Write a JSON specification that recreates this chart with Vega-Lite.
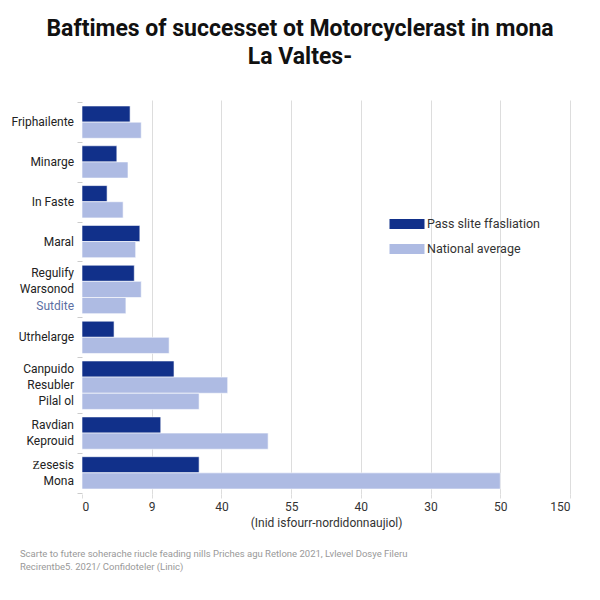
{
  "$schema": "https://vega.github.io/schema/vega-lite/v6.json",
  "autosize": {"type": "none"},
  "width": 488,
  "height": 394,
  "padding": {"left": 82, "top": 100, "right": 30, "bottom": 106},
  "background": "white",
  "title": {
    "text": ["Baftimes of successet ot Motorcyclerast in mona", "La Valtes-"],
    "font": "Roboto",
    "fontSize": 23,
    "fontWeight": "bold",
    "color": "#111111",
    "anchor": "middle",
    "frame": "group",
    "dx": -26,
    "offset": 31,
    "lineHeight": 28
  },
  "config": {"view": {"stroke": null}, "font": "Roboto"},
  "datasets": {
    "bars": [
      {"order": 0, "group": 0, "series": "Pass slite ffasliation", "value": 6.9},
      {"order": 1, "group": 0, "series": "National average", "value": 8.5},
      {"order": 2, "group": 1, "series": "Pass slite ffasliation", "value": 5.0},
      {"order": 3, "group": 1, "series": "National average", "value": 6.6},
      {"order": 4, "group": 2, "series": "Pass slite ffasliation", "value": 3.6},
      {"order": 5, "group": 2, "series": "National average", "value": 5.9},
      {"order": 6, "group": 3, "series": "Pass slite ffasliation", "value": 8.3},
      {"order": 7, "group": 3, "series": "National average", "value": 7.7},
      {"order": 8, "group": 4, "series": "Pass slite ffasliation", "value": 7.5},
      {"order": 9, "group": 4, "series": "National average", "value": 8.5},
      {"order": 10, "group": 4, "series": "National average", "value": 6.3},
      {"order": 11, "group": 5, "series": "Pass slite ffasliation", "value": 4.6},
      {"order": 12, "group": 5, "series": "National average", "value": 12.5},
      {"order": 13, "group": 6, "series": "Pass slite ffasliation", "value": 13.2},
      {"order": 14, "group": 6, "series": "National average", "value": 20.9},
      {"order": 15, "group": 6, "series": "National average", "value": 16.8},
      {"order": 16, "group": 7, "series": "Pass slite ffasliation", "value": 11.3},
      {"order": 17, "group": 7, "series": "National average", "value": 26.7},
      {"order": 18, "group": 8, "series": "Pass slite ffasliation", "value": 16.8},
      {"order": 19, "group": 8, "series": "National average", "value": 60.0}
    ],
    "labels": [
      {"label": "Friphailente", "order": 0.5, "group": 0},
      {"label": "Minarge", "order": 2.5, "group": 1},
      {"label": "In Faste", "order": 4.5, "group": 2},
      {"label": "Maral", "order": 6.5, "group": 3},
      {"label": "Regulify", "order": 8, "group": 4},
      {"label": "Warsonod", "order": 9, "group": 4},
      {"label": "Sutdite", "order": 10, "group": 4},
      {"label": "Utrhelarge", "order": 11.5, "group": 5},
      {"label": "Canpuido", "order": 13, "group": 6},
      {"label": "Resubler", "order": 14, "group": 6},
      {"label": "Pilal ol", "order": 15, "group": 6},
      {"label": "Ravdian", "order": 16, "group": 7},
      {"label": "Keprouid", "order": 17, "group": 7},
      {"label": "Ƶesesis", "order": 18, "group": 8},
      {"label": "Mona", "order": 19, "group": 8}
    ]
  },
  "layer": [
    {
      "data": {"name": "bars"},
      "transform": [
        {"calculate": "datum.order + datum.group * 0.464", "as": "pos"},
        {"calculate": "datum.pos - 0.5", "as": "y0"},
        {"calculate": "datum.pos + 0.5", "as": "y1"}
      ],
      "mark": {"type": "rect", "stroke": "white", "strokeWidth": 0.6},
      "encoding": {
        "x": {
          "field": "value",
          "type": "quantitative",
          "title": "(Inid isfourr-nordidonnaujiol)",
          "scale": {"domain": [0, 70], "nice": false, "zero": true},
          "axis": {
            "values": [0, 10, 20, 30, 40, 50, 60, 70],
            "labelExpr": "['0','9','40','55','40','30','50','150'][round(datum.value/10)]",
            "grid": true,
            "gridColor": "#dddddd",
            "gridOpacity": {"condition": {"test": "datum.value === 0", "value": 0}, "value": 1},
            "domain": false,
            "tickColor": "#dddddd",
            "tickSize": 4,
            "labelFontSize": 12,
            "labelColor": "#333333",
            "labelPadding": 3,
            "titleFontSize": 12,
            "titleFontWeight": "normal",
            "titleColor": "#333333",
            "titlePadding": 5
          }
        },
        "x2": {"datum": 0},
        "y": {
          "field": "y0",
          "type": "quantitative",
          "title": null,
          "scale": {"domain": [-0.87, 23.52], "reverse": true, "nice": false, "zero": false},
          "axis": {
            "values": [-0.75, 1.732, 4.196, 6.66, 9.124, 12.588, 15.052, 18.516, 20.98, 23.45],
            "labels": false,
            "domain": false,
            "grid": false,
            "tickColor": "#cccccc",
            "tickSize": 5
          }
        },
        "y2": {"field": "y1"},
        "color": {
          "field": "series",
          "type": "nominal",
          "scale": {"domain": ["Pass slite ffasliation", "National average"], "range": ["#11308a", "#aebbe3"]},
          "legend": {
            "orient": "none",
            "legendX": 315,
            "legendY": 114,
            "title": null,
            "symbolType": "M-1.75,-0.5H1.75V0.5H-1.75Z",
            "symbolSize": 400,
            "symbolStrokeWidth": 0,
            "labelFontSize": 12.5,
            "labelColor": "#333333",
            "labelOffset": 10,
            "rowPadding": 8,
            "padding": 0
          }
        }
      }
    },
    {
      "data": {"name": "labels"},
      "transform": [{"calculate": "datum.order + datum.group * 0.464", "as": "pos"}],
      "mark": {"type": "text", "align": "right", "baseline": "middle", "dx": -8, "fontSize": 12, "font": "Roboto"},
      "encoding": {
        "x": {"datum": 0, "type": "quantitative"},
        "y": {"field": "pos", "type": "quantitative", "title": null},
        "text": {"field": "label"},
        "color": {"condition": {"test": "datum.label === 'Sutdite'", "value": "#5c6fa3"}, "value": "#222222"}
      }
    },
    {
      "data": {"values": [{"note": "footer"}]},
      "mark": {"type": "text", "align": "left", "baseline": "top", "fontSize": 9.5, "color": "#999999", "lineHeight": 13, "font": "Roboto"},
      "encoding": {
        "x": {"datum": -8.9, "type": "quantitative"},
        "y": {"datum": 26.9, "type": "quantitative"},
        "text": {"value": ["Scarte to futere soherache riucle feading nills Priches agu Retlone 2021, Lvlevel Dosye Fileru", "Recirentbe5. 2021/  Confidoteler (Linic)"]}
      }
    }
  ]
}
